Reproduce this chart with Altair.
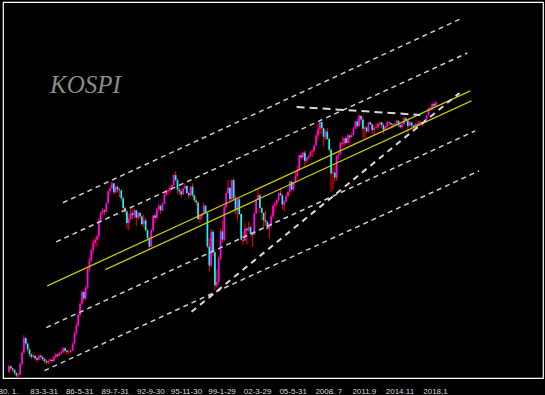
import altair as alt
import pandas as pd

# ---- KOSPI, two-month candles from 1980-01 to 2018-01 ----
FIRST_OPEN = 108
CLOSE = [
    115, 112, 110, 106, 103, 104,          # 1980
    118, 135, 160, 150, 140, 132,          # 1981
    128, 130, 126, 124, 130, 128,          # 1982
    125, 122, 120, 122, 124, 122,          # 1983
    128, 132, 130, 134, 136, 142,          # 1984
    138, 136, 136, 138, 150, 170,          # 1985
    185, 210, 240, 275, 255, 290,          # 1986
    360, 400, 450, 490, 510, 530,          # 1987
    640, 700, 720, 710, 780, 900,          # 1988
    930, 990, 890, 950, 920, 910,          # 1989
    830, 740, 710, 620, 650, 696,          # 1990
    680, 720, 660, 700, 670, 612,          # 1991
    640, 570, 520, 470, 570, 678,          # 1992
    660, 730, 760, 720, 780, 866,          # 1993
    900, 910, 940, 970, 1090, 1030,        # 1994
    920, 900, 870, 930, 960, 883,          # 1995
    860, 950, 860, 810, 790, 651,          # 1996
    670, 690, 760, 700, 470, 376,          # 1997
    560, 440, 297, 310, 410, 562,          # 1998
    510, 750, 880, 940, 820, 1028,         # 1999
    830, 720, 820, 690, 510, 505,          # 2000
    580, 570, 590, 545, 540, 694,          # 2001
    820, 860, 740, 700, 640, 628,          # 2002
    580, 600, 670, 760, 780, 811,          # 2003
    880, 860, 770, 800, 850, 896,          # 2004
    1010, 920, 1000, 1080, 1160, 1379,     # 2005
    1340, 1420, 1290, 1340, 1370, 1434,    # 2006
    1450, 1550, 1740, 1870, 2040, 1897,    # 2007
    1710, 1820, 1670, 1470, 1110, 1124,    # 2008
    1060, 1370, 1390, 1590, 1580, 1683,    # 2009
    1590, 1740, 1700, 1740, 1880, 2051,    # 2010
    1940, 2190, 2100, 1880, 1910, 1826,    # 2011
    2030, 1980, 1850, 1900, 1910, 1997,    # 2012
    2030, 1960, 1860, 1930, 2030, 2011,    # 2013
    1980, 1960, 2000, 2070, 1960, 1916,    # 2014
    1990, 2130, 2070, 1940, 2030, 1961,    # 2015
    1920, 1990, 1970, 2030, 2010, 2026,    # 2016
    2090, 2200, 2390, 2360, 2520, 2467,    # 2017
    2570,                                  # 2018
]
HIGH = [
    117, 116, 113, 111, 107, 106,
    120, 138, 166, 162, 152, 142,
    134, 133, 132, 128, 132, 132,
    130, 127, 124, 125, 126, 126,
    130, 135, 134, 136, 139, 144,
    144, 140, 139, 140, 152, 172,
    192, 215, 245, 282, 280, 295,
    370, 415, 460, 510, 525, 540,
    660, 710, 740, 730, 790, 910,
    960, 1008, 990, 960, 970, 940,
    920, 850, 760, 720, 690, 740,
    720, 730, 720, 710, 700, 680,
    690, 660, 580, 530, 580, 680,
    700, 740, 780, 770, 790, 880,
    920, 930, 960, 980, 1110, 1139,
    1050, 940, 920, 940, 990, 970,
    900, 960, 990, 870, 830, 800,
    690, 700, 790, 770, 700, 520,
    580, 570, 440, 360, 420, 580,
    640, 760, 900, 1030, 950, 1030,
    1060, 860, 820, 840, 690, 560,
    620, 590, 630, 600, 550, 710,
    830, 937, 880, 750, 700, 720,
    640, 620, 690, 770, 800, 820,
    890, 940, 870, 810, 880, 900,
    1020, 1020, 1010, 1130, 1220, 1380,
    1420, 1440, 1460, 1350, 1380, 1460,
    1470, 1560, 1790, 2000, 2064, 2040,
    1910, 1860, 1900, 1700, 1500, 1200,
    1230, 1380, 1440, 1620, 1720, 1690,
    1730, 1770, 1760, 1800, 1920, 2060,
    2120, 2231, 2190, 2190, 1940, 1950,
    2040, 2060, 2000, 1960, 2010, 2000,
    2040, 2030, 2010, 1950, 2060, 2060,
    2020, 2010, 2020, 2090, 2070, 1990,
    2000, 2190, 2160, 2080, 2060, 2040,
    1970, 2020, 2030, 2070, 2070, 2040,
    2100, 2210, 2400, 2450, 2560, 2560,
    2607,
]
LOW = [
    106, 110, 107, 104, 100, 100,
    103, 116, 133, 145, 136, 128,
    125, 126, 123, 120, 123, 125,
    122, 119, 117, 118, 120, 119,
    121, 126, 127, 129, 132, 134,
    134, 132, 132, 134, 137, 148,
    165, 182, 205, 236, 245, 250,
    285, 350, 390, 430, 470, 470,
    520, 630, 680, 680, 700, 780,
    870, 920, 870, 880, 890, 840,
    800, 720, 680, 580, 570, 640,
    650, 660, 600, 640, 650, 600,
    590, 560, 500, 456, 470, 560,
    620, 640, 710, 690, 710, 770,
    850, 860, 880, 920, 960, 1010,
    880, 860, 840, 860, 920, 870,
    830, 850, 840, 790, 760, 640,
    620, 640, 680, 690, 460, 350,
    370, 420, 280, 290, 300, 400,
    490, 500, 730, 870, 790, 810,
    810, 690, 640, 680, 500, 480,
    500, 480, 560, 530, 468, 540,
    690, 810, 700, 640, 580, 600,
    570, 515, 590, 650, 700, 750,
    800, 850, 730, 710, 790, 840,
    870, 910, 900, 1000, 1040, 1150,
    1310, 1310, 1200, 1260, 1310, 1350,
    1350, 1390, 1540, 1640, 1770, 1770,
    1530, 1640, 1650, 1440, 892, 920,
    1010, 1020, 1300, 1380, 1530, 1530,
    1550, 1590, 1550, 1700, 1770, 1880,
    1880, 1930, 2000, 1684, 1644, 1780,
    1800, 1960, 1770, 1760, 1890, 1860,
    1930, 1890, 1770, 1830, 1900, 1960,
    1880, 1900, 1940, 1980, 1910, 1890,
    1880, 1970, 2030, 1800, 1940, 1900,
    1820, 1910, 1890, 1970, 1950, 1930,
    2020, 2080, 2210, 2310, 2350, 2440,
    2460,
]

# x axis: months since 1980-01, labelled every 38 months
TICK_MONTHS = [0, 38, 76, 114, 152, 190, 228, 266, 304, 342, 380, 418, 456]
TICK_LABELS = ["80. 1.", "83-3-31", "86-5-31", "89-7-31", "92-9-30", "95-11-30",
               "99-1-29", "02-3-29", "05-5-31", "2008. 7", "2011.9", "2014.11", "2018,1"]

# trend lines: (month, value) endpoints
THIN_M1 = [58.7, 51.4, 40.9, 38.8]
THIN_V1 = [787, 497, 181, 109]
THIN_M2 = [485.3, 490.6, 498.9, 503.1]
THIN_V2 = [6933, 4593, 1835, 1146]

YEL_M1 = [41.9, 103.8]
YEL_V1 = [296, 358]
YEL_M2 = [493.7, 494.8]
YEL_V2 = [2938, 2611]

SUP_M1, SUP_V1, SUP_M2, SUP_V2 = [196.0], [218], [482.2], [2869]
RES_M1, RES_V1, RES_M2, RES_V2 = [308.2], [2434], [440.3], [2215]

# ---- build tables ----
opens = [FIRST_OPEN] + CLOSE[:-1]
candles = pd.DataFrame({
    "m": [2 * k + 1 for k in range(len(CLOSE))],
    "open": opens,
    "close": CLOSE,
    "high": HIGH,
    "low": LOW,
})
candles["dir"] = ["up" if c >= o else "down" for o, c in zip(opens, CLOSE)]

xs = alt.Scale(domain=[0, 566], nice=False, zero=False)
ys = alt.Scale(type="log", domain=[100, 8370], nice=False)

label_expr = " : ".join(
    f"datum.value == {m} ? '{t}'" for m, t in zip(TICK_MONTHS, TICK_LABELS)
) + " : ''"

xaxis = alt.Axis(values=TICK_MONTHS, labelExpr=label_expr, domain=False, ticks=False,
                 grid=False, title=None, labelColor="#d6d6d6", labelFont="Liberation Sans",
                 labelFontSize=8, labelPadding=9, labelOverlap=False, labelBaseline="top")

base = alt.Chart(candles)
wicks = base.mark_rule(color="#ff0000", strokeWidth=1).encode(
    x=alt.X("m:Q", scale=xs, axis=xaxis),
    y=alt.Y("low:Q", scale=ys, axis=None),
    y2="high:Q",
)
bodies = base.mark_bar(size=1.7).encode(
    x=alt.X("m:Q", scale=xs),
    y=alt.Y("open:Q", scale=ys),
    y2="close:Q",
    color=alt.Color("dir:N", scale=alt.Scale(domain=["up", "down"],
                                             range=["#ff00ff", "#00ffff"]), legend=None),
)


def seg_layer(m1, v1, m2, v2, **style):
    df = pd.DataFrame({"m1": m1, "v1": v1, "m2": m2, "v2": v2})
    return alt.Chart(df).mark_rule(**style).encode(
        x=alt.X("m1:Q", scale=xs), y=alt.Y("v1:Q", scale=ys),
        x2="m2:Q", y2="v2:Q",
    )


thin = seg_layer(THIN_M1, THIN_V1, THIN_M2, THIN_V2,
                 color="#cccccc", strokeWidth=1.5, strokeDash=[5, 4])
yellow = seg_layer(YEL_M1, YEL_V1, YEL_M2, YEL_V2, color="#c8c800", strokeWidth=1.3)
sup = seg_layer(SUP_M1, SUP_V1, SUP_M2, SUP_V2,
                color="#d8d8d8", strokeWidth=2, strokeDash=[6, 5])
res = seg_layer(RES_M1, RES_V1, RES_M2, RES_V2,
                color="#d8d8d8", strokeWidth=2, strokeDash=[8, 5])

title = alt.Chart(pd.DataFrame({"t": ["KOSPI"]})).mark_text(
    align="left", baseline="alphabetic", font="Liberation Serif", fontStyle="italic",
    fontSize=25, color="#8a8a8a",
).encode(x=alt.value(47), y=alt.value(91), text="t:N")

chart = alt.layer(wicks, bodies, yellow, thin, sup, res, title).properties(
    width=540, height=376,
    padding={"left": 3, "top": 2, "right": 2, "bottom": 17},
    autosize="none",
    background="black",
).configure_view(stroke="#ffffff", strokeWidth=1.2)

chart.save("out.html", embed_options={"renderer": "svg", "actions": False})
